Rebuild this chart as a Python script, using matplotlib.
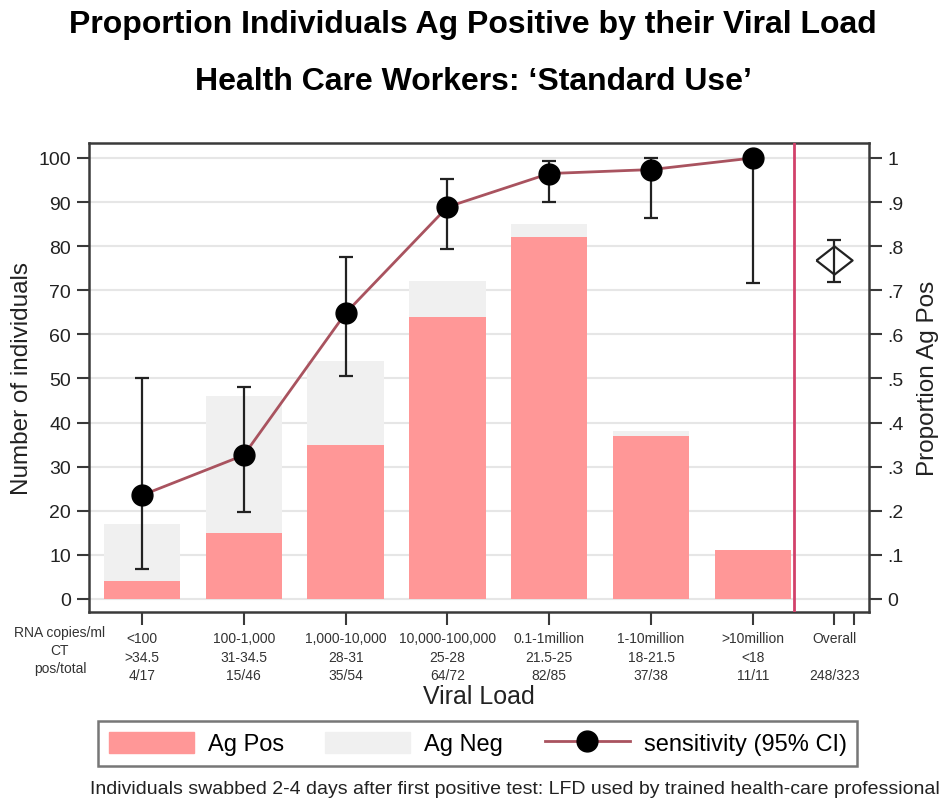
import numpy as np
import matplotlib
matplotlib.use('Agg')
import matplotlib.pyplot as plt
from matplotlib.lines import Line2D
from matplotlib.patches import Patch

plt.rcParams['font.family'] = ['Liberation Sans', 'DejaVu Sans']

# data
rna = ['<100', '100-1,000', '1,000-10,000', '10,000-100,000',
       '0.1-1million', '1-10million', '>10million']
ct = ['>34.5', '31-34.5', '28-31', '25-28', '21.5-25', '18-21.5', '<18']
pos = np.array([4, 15, 35, 64, 82, 37, 11])
total = np.array([17, 46, 54, 72, 85, 38, 11])
ci_lo = np.array([0.068, 0.197, 0.506, 0.794, 0.900, 0.864, 0.717])
ci_hi = np.array([0.501, 0.481, 0.776, 0.952, 0.993, 0.999, 1.0])
overall_pos, overall_total = 248, 323
overall_lo, overall_hi = 0.719, 0.814

pink = '#FF9797'
grey = '#F0F0F0'
line_col = '#A9535F'
red_line = '#D2416A'
spine_col = '#3A3A3A'

sens = pos / total
overall_sens = overall_pos / overall_total
x = np.arange(1, len(pos) + 1)
x_overall = 7.8

fig = plt.figure(figsize=(9.46, 8.03), dpi=100)
ax = fig.add_axes([0.0941, 0.2366, 0.8245, 0.5841])

ax.set_xlim(0.48, 8.14)
ax.set_ylim(-2.95, 103.4)
ax.set_yticks(np.arange(0, 101, 10))
ax.grid(axis='y', color='#E6E6E6', lw=1.5)
ax.set_axisbelow(True)

# bars: total (Ag Neg on top) and Ag Pos
ax.bar(x, total, width=0.75, color=grey, zorder=2)
ax.bar(x, pos, width=0.75, color=pink, zorder=3)

ax.axvline(7.4, color=red_line, lw=2, zorder=4)

# sensitivity line on the same scale (proportion * 100)
ax.errorbar(x, sens * 100, yerr=[(sens - ci_lo) * 100, (ci_hi - sens) * 100],
            fmt='none', ecolor='#222222', elinewidth=1.6, capsize=4.7,
            capthick=1.6, zorder=5)
ax.plot(x, sens * 100, color=line_col, lw=2, zorder=6)
ax.plot(x, sens * 100, 'o', color='black', markersize=15, zorder=7)

# overall estimate
diamond = [(-1, 0), (0, 0.78), (1, 0), (0, -0.78), (-1, 0)]
ax.errorbar([x_overall], [overall_sens * 100],
            yerr=[[(overall_sens - overall_lo) * 100], [(overall_hi - overall_sens) * 100]],
            fmt='none', ecolor='#222222', elinewidth=1.6, capsize=4.7,
            capthick=1.6, zorder=5)
ax.plot([x_overall], [overall_sens * 100], marker=diamond, markersize=26,
        mfc='none', mec='#222222', mew=1.6, ls='none', zorder=6)

for s in ax.spines.values():
    s.set_color(spine_col)
    s.set_linewidth(1.8)

ax.tick_params(axis='y', labelsize=14, length=9, width=1.5, color=spine_col,
               pad=4, labelcolor='#222222')
ax.set_ylabel('Number of individuals', fontsize=17.5, labelpad=4, color='#222222')

# x ticks with three-row table labels
xt = list(x) + [x_overall, 7.99]
xl = [f'{r}\n{c}\n{p}/{t}' for r, c, p, t in zip(rna, ct, pos, total)]
xl += [f'Overall\n \n{overall_pos}/{overall_total}', '']
ax.set_xticks(xt)
ax.set_xticklabels(xl, fontsize=10, linespacing=1.4, color='#333333')
ax.tick_params(axis='x', length=9, width=1.5, color=spine_col, pad=5)
ax.text(0.195, -0.027, 'RNA copies/ml\nCT\npos/total', transform=ax.get_xaxis_transform(),
        ha='center', va='top', fontsize=10, linespacing=1.4, color='#333333',
        clip_on=False)
ax.set_xlabel('Viral Load', fontsize=18, labelpad=1, color='#222222')

# right axis
ax2 = ax.twinx()
ax2.set_ylim(ax.get_ylim())
ax2.set_yticks(np.arange(0, 101, 10))
ax2.set_yticklabels(['0'] + [f'.{i}' for i in range(1, 10)] + ['1'])
ax2.tick_params(axis='y', labelsize=14, length=9, width=1.5, color=spine_col,
                pad=4, labelcolor='#222222')
for s in ax2.spines.values():
    s.set_visible(False)
ax2.set_ylabel('Proportion Ag Pos', fontsize=17.5, labelpad=10, color='#222222')

# titles
fig.text(0.5, 0.969, 'Proportion Individuals Ag Positive by their Viral Load',
         ha='center', va='center', fontsize=23, fontweight='bold',
         family=['Liberation Sans Narrow', 'Liberation Sans'])
fig.text(0.5, 0.898, 'Health Care Workers: \u2018Standard Use\u2019',
         ha='center', va='center', fontsize=23, fontweight='bold',
         family=['Liberation Sans Narrow', 'Liberation Sans'])

# legend
handles = [Patch(color=pink), Patch(color=grey),
           Line2D([], [], color=line_col, lw=2, marker='o', mfc='black',
                  mec='black', markersize=15)]
labels = ['Ag Pos', 'Ag Neg', 'sensitivity (95% CI)']
leg = fig.legend(handles, labels, loc='center', bbox_to_anchor=(0.505, 0.073),
                 ncol=3, fontsize=17, frameon=True, fancybox=False,
                 handlelength=3.6, handleheight=1.0, handletextpad=0.6,
                 columnspacing=1.75, borderpad=0.45, numpoints=1)
leg.get_frame().set_edgecolor('#555555')
leg.get_frame().set_linewidth(1.8)

fig.text(0.993, 0.017, 'Individuals swabbed 2-4 days after first positive test: '
         'LFD used by trained health-care professional',
         ha='right', va='center', fontsize=14.0, color='#222222',
         family=['Liberation Sans Narrow', 'Liberation Sans'])

fig.savefig('out.png', dpi=100)
